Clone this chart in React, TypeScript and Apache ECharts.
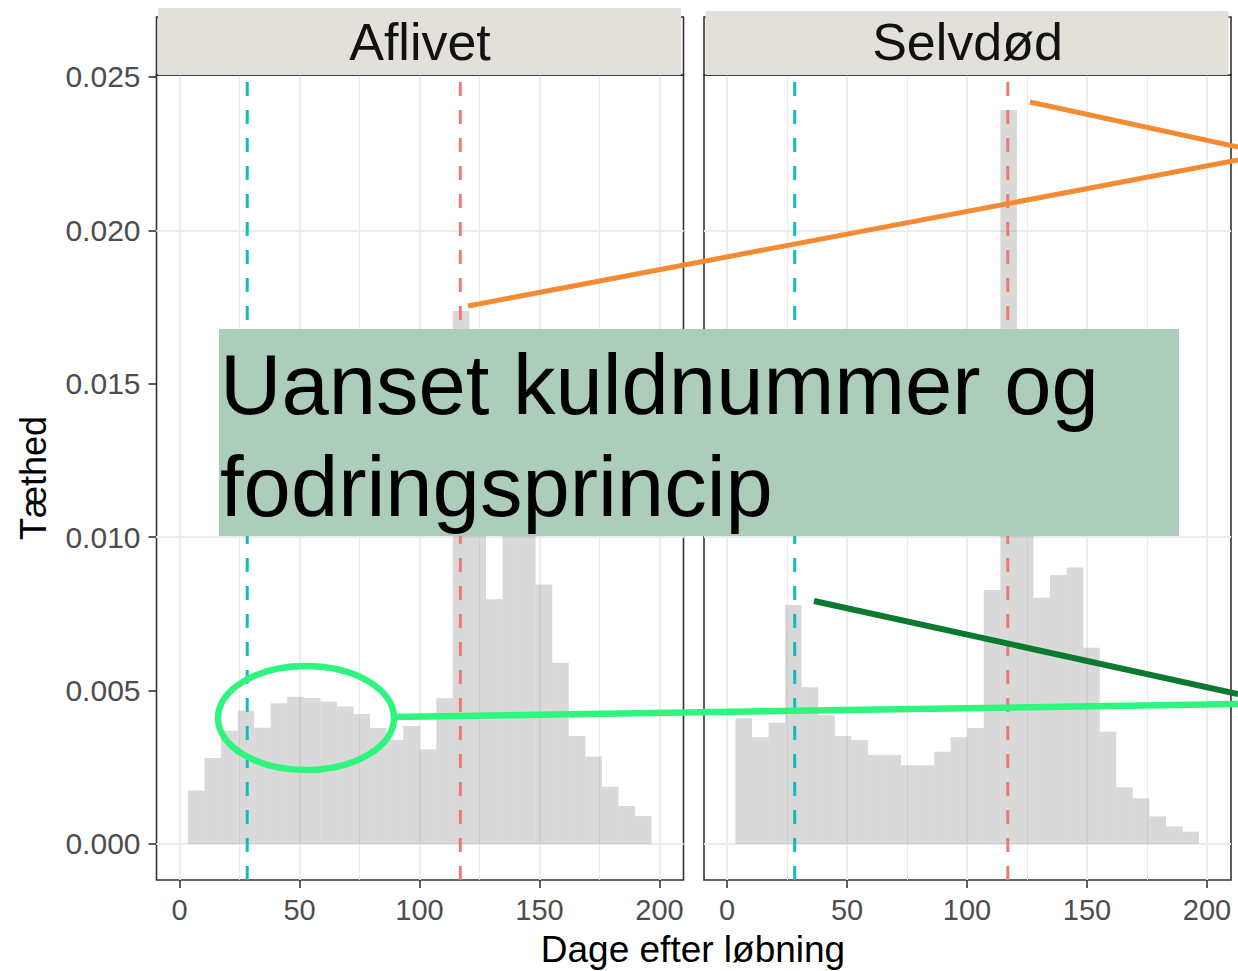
import React, { useEffect, useRef } from "react";
import * as echarts from "echarts";

// ---- data ----
const PANELS = ["Aflivet", "Selvdød"];
const BIN_EDGES = [
  3.5, 10.4, 17.3, 24.2, 31.1, 38.0, 44.9, 51.8, 58.7, 65.6, 72.5, 79.4, 86.3, 93.2, 100.1,
  107.0, 113.9, 120.8, 127.7, 134.6, 141.5, 148.4, 155.3, 162.2, 169.1, 176.0, 182.9, 189.8, 196.7,
];
const AFLIVET = [
  0.00174, 0.0028, 0.00369, 0.00434, 0.00379, 0.00459, 0.0048, 0.00476, 0.00464, 0.00448,
  0.00424, 0.00378, 0.00339, 0.00385, 0.00309, 0.00475, 0.01737, 0.0105, 0.00798, 0.0122,
  0.0118, 0.00846, 0.00591, 0.00352, 0.00285, 0.00187, 0.00124, 0.00091,
];
const SELVDOD = [
  0.0041, 0.00348, 0.00395, 0.00779, 0.00511, 0.0042, 0.00352, 0.00339, 0.0029, 0.0029,
  0.00257, 0.00257, 0.00301, 0.00348, 0.00378, 0.00828, 0.02392, 0.011, 0.00803, 0.00877,
  0.00901, 0.0064, 0.00366, 0.00185, 0.00149, 0.0009, 0.00057, 0.0004,
];
const PANEL_VALUES = [AFLIVET, SELVDOD];
const MEANS = [28.2, 117.0];
const X_TICKS = [0, 50, 100, 150, 200];
const X_MINOR = [25, 75, 125, 175];
const Y_TICKS = [0, 0.005, 0.01, 0.015, 0.02, 0.025];
const Y_MINOR = [0.0025, 0.0075, 0.0125, 0.0175, 0.0225];

// ---- layout / style ----
const FONT = '"Liberation Sans", Arial, Helvetica, sans-serif';
const X_MIN = -9.6;
const X_MAX = 210;
const Y_MIN = -0.0011734;
const Y_MAX = 0.025065;
const GRID_LEFT = [156.5, 704];
const GRID_TOP = 75;
const GRID_W = 527;
const GRID_H = 805;
const BAR_FILL = "rgba(150,150,150,0.36)";
const MEAN_COLORS = ["#12BCBD", "#EE7A72"];
const GRID_COLOR = "#ebebeb";

function buildOption() {
  const grids = GRID_LEFT.map((left) => ({
    left,
    top: GRID_TOP,
    width: GRID_W,
    height: GRID_H,
    show: true,
    borderColor: "#333333",
    borderWidth: 1.6,
    backgroundColor: "transparent",
  }));

  const xAxes = GRID_LEFT.map((_, i) => ({
    type: "value",
    gridIndex: i,
    min: X_MIN,
    max: X_MAX,
    axisLine: { show: false, onZero: false },
    axisTick: {
      show: true,
      length: 8,
      customValues: X_TICKS,
      lineStyle: { color: "#333333", width: 1.6 },
    },
    axisLabel: {
      show: true,
      customValues: X_TICKS,
      fontSize: 29,
      fontFamily: FONT,
      color: "#4d4d4d",
      margin: 15,
    },
    splitLine: { show: false },
  }));

  const yAxes = GRID_LEFT.map((_, i) => ({
    type: "value",
    gridIndex: i,
    min: Y_MIN,
    max: Y_MAX,
    axisLine: { show: false, onZero: false },
    axisTick: {
      show: i === 0,
      length: 8,
      customValues: Y_TICKS,
      lineStyle: { color: "#333333", width: 1.6 },
    },
    axisLabel: {
      show: i === 0,
      customValues: Y_TICKS,
      formatter: (v: number) => v.toFixed(3),
      fontSize: 30,
      fontFamily: FONT,
      color: "#4d4d4d",
      margin: 16,
    },
    splitLine: { show: false },
  }));

  const gridLines = [
    ...X_TICKS.map((v) => ({ xAxis: v, lineStyle: { color: GRID_COLOR, width: 1.8, type: "solid" } })),
    ...X_MINOR.map((v) => ({ xAxis: v, lineStyle: { color: GRID_COLOR, width: 1, type: "solid" } })),
    ...Y_TICKS.map((v) => ({ yAxis: v, lineStyle: { color: GRID_COLOR, width: 1.8, type: "solid" } })),
    ...Y_MINOR.map((v) => ({ yAxis: v, lineStyle: { color: GRID_COLOR, width: 1, type: "solid" } })),
  ];

  const series: any[] = [];
  PANEL_VALUES.forEach((vals, i) => {
    series.push({
      type: "custom",
      name: PANELS[i],
      xAxisIndex: i,
      yAxisIndex: i,
      z: 3,
      silent: true,
      data: vals.map((v, k) => [BIN_EDGES[k], BIN_EDGES[k + 1], v]),
      encode: { x: [0, 1], y: 2 },
      renderItem: (_p: any, api: any) => {
        const a = api.coord([api.value(0), api.value(2)]);
        const b = api.coord([api.value(1), 0]);
        return {
          type: "rect",
          shape: { x: a[0], y: a[1], width: b[0] - a[0], height: b[1] - a[1] },
          style: { fill: BAR_FILL },
        };
      },
      markLine: {
        silent: true,
        z: 1,
        animation: false,
        symbol: ["none", "none"],
        label: { show: false },
        emphasis: { disabled: true },
        data: gridLines,
      },
    });
    series.push({
      type: "custom",
      xAxisIndex: i,
      yAxisIndex: i,
      z: 5,
      silent: true,
      data: MEANS.map((m, k) => [m, 0, k]),
      encode: { x: 0, y: 1 },
      renderItem: (_p: any, api: any) => {
        const x = api.value(0);
        const k = api.value(2);
        const b = api.coord([x, Y_MIN]);
        const t = api.coord([x, Y_MAX]);
        return {
          type: "line",
          shape: { x1: b[0], y1: b[1], x2: t[0], y2: t[1] },
          style: { stroke: MEAN_COLORS[k], lineWidth: 3, lineDash: [14, 14] },
        };
      },
    });
  });

  const graphic: any[] = [];
  // facet strips
  const stripTops = [8, 11];
  GRID_LEFT.forEach((left, i) => {
    graphic.push({
      type: "rect",
      z: 90,
      shape: { x: left, y: 17, width: GRID_W, height: GRID_TOP - 17 },
      style: { fill: "none", stroke: "#333333", lineWidth: 1.6 },
    });
    graphic.push({
      type: "rect",
      z: 91,
      shape: { x: left + 1.5, y: stripTops[i], width: GRID_W - 4, height: GRID_TOP - stripTops[i] },
      style: { fill: "#e2e0d9" },
    });
    graphic.push({
      type: "text",
      z: 92,
      x: left + GRID_W / 2,
      y: 42,
      style: {
        text: PANELS[i],
        fontSize: 52,
        fontFamily: FONT,
        fill: "#111111",
        align: "center",
        verticalAlign: "middle",
      },
    });
  });
  // axis titles
  graphic.push({
    type: "text",
    z: 92,
    x: 693,
    y: 949,
    style: {
      text: "Dage efter løbning",
      fontSize: 37,
      fontFamily: FONT,
      fill: "#000000",
      align: "center",
      verticalAlign: "middle",
    },
  });
  graphic.push({
    type: "text",
    z: 92,
    x: 33,
    y: 478,
    rotation: Math.PI / 2,
    style: {
      text: "Tæthed",
      fontSize: 36,
      fontFamily: FONT,
      fill: "#000000",
      align: "center",
      verticalAlign: "middle",
    },
  });
  // annotation box
  graphic.push({
    type: "rect",
    z: 100,
    shape: { x: 219, y: 329, width: 960, height: 207 },
    style: { fill: "#abcdb9" },
  });
  graphic.push({
    type: "text",
    z: 101,
    x: 220,
    y: 384,
    style: {
      text: "Uanset kuldnummer og",
      fontSize: 85,
      fontFamily: FONT,
      fill: "#000000",
      align: "left",
      verticalAlign: "middle",
    },
  });
  graphic.push({
    type: "text",
    z: 101,
    x: 220,
    y: 486,
    style: {
      text: "fodringsprincip",
      fontSize: 85,
      fontFamily: FONT,
      fill: "#000000",
      align: "left",
      verticalAlign: "middle",
    },
  });
  // pointer lines
  const lines = [
    { p: [468, 306, 1238, 160], c: "#f48a31", w: 5 },
    { p: [1030, 102, 1238, 147], c: "#f48a31", w: 5 },
    { p: [814, 601, 1238, 694], c: "#0b7a30", w: 6 },
    { p: [393, 717, 1238, 704], c: "#2ef57e", w: 6.5 },
  ];
  lines.forEach((l) => {
    graphic.push({
      type: "line",
      z: 102,
      shape: { x1: l.p[0], y1: l.p[1], x2: l.p[2], y2: l.p[3] },
      style: { stroke: l.c, lineWidth: l.w },
    });
  });
  graphic.push({
    type: "ellipse",
    z: 102,
    shape: { cx: 306, cy: 718, rx: 88, ry: 52 },
    style: { fill: "none", stroke: "#2ef57e", lineWidth: 6.5 },
  });

  return {
    animation: false,
    backgroundColor: "#ffffff",
    grid: grids,
    xAxis: xAxes,
    yAxis: yAxes,
    series,
    graphic,
  };
}

export default function App() {
  const ref = useRef<HTMLDivElement>(null);
  useEffect(() => {
    const chart = echarts.init(ref.current as HTMLDivElement, null, { renderer: "svg" });
    chart.setOption(buildOption() as any);
    return () => chart.dispose();
  }, []);
  return (
    <div
      ref={ref}
      style={{ position: "fixed", left: 0, top: 0, width: 1238, height: 971, background: "#ffffff" }}
    />
  );
}
